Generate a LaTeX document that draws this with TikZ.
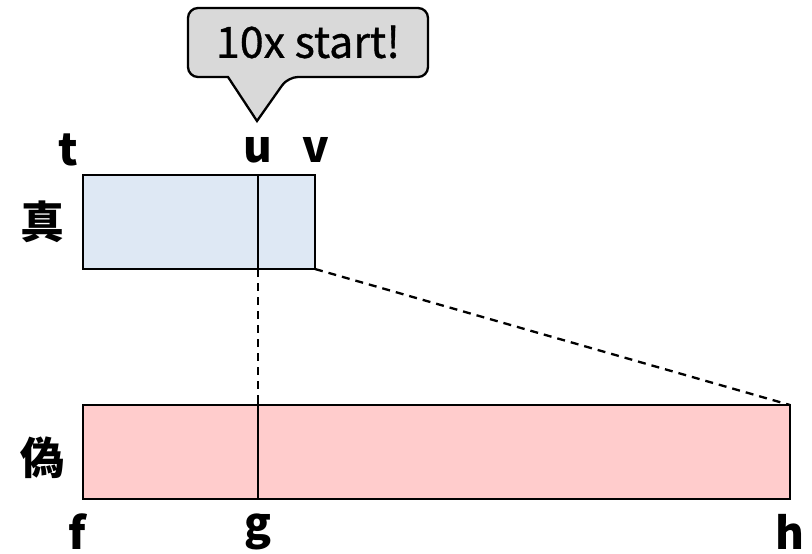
\documentclass[tikz,border=0pt]{standalone}
\usepackage{fontspec}
\setmainfont{Noto Sans CJK JP}
\newfontfamily\calloutfont{Noto Sans CJK JP}[FakeBold=0.8]
\usetikzlibrary{calc}
\definecolor{truefill}{HTML}{DEE8F4}
\definecolor{falsefill}{HTML}{FFCCCC}
\definecolor{calloutfill}{HTML}{D9D9D9}
\tikzset{
  lbl/.style={font=\fontsize{44}{48}\selectfont\bfseries, inner sep=0pt},
  bar/.style={draw=black, line width=2.3pt},
  guide/.style={line width=2.3pt, dash pattern=on 8pt off 6pt},
}
\begin{document}
\begin{tikzpicture}[x=1pt, y=-1pt]
  \useasboundingbox (0,0) rectangle (812,554);
  % the two bars
  \draw[bar, fill=truefill] (83,175) rectangle (315,269);
  \draw[bar, fill=falsefill] (83,405) rectangle (790,499);
  % named corners and split points
  \coordinate (tu) at (258,175);
  \coordinate (bu) at (258,269);
  \coordinate (tv) at (315,269);
  \coordinate (gtop) at (258,395);
  \coordinate (gb) at (258,499);
  \coordinate (hc) at (790,405);
  \draw[line width=2.3pt] (tu) -- (bu);
  \draw[line width=2.3pt] (gtop) -- (gb);
  \draw[guide] (bu) -- (gtop);
  \draw[guide] (tv) -- (hc);
  % callout
  \draw[line width=2.3pt, fill=calloutfill, rounded corners=10pt]
    (228,77) -- (188,77) -- (188,8) -- (428,8) -- (428,77) -- (288,77)
    [sharp corners] -- (257,121) -- cycle;
  \node[font=\calloutfont\fontsize{43}{46}\selectfont, inner sep=0pt] (callout) at (308,42) {10x start!};
  % labels
  \node[lbl] (t) at (68,150) {t};
  \node[lbl] (u) at (258,150) {u};
  \node[lbl] (v) at (316,150) {v};
  \node[lbl] (shin) at (42,222) {真};
  \node[lbl] (gi) at (42,458) {偽};
  \node[lbl] (f) at (77,532) {f};
  \node[lbl] (g) at (258,532) {g};
  \node[lbl] (h) at (790,532) {h};
\end{tikzpicture}
\end{document}
